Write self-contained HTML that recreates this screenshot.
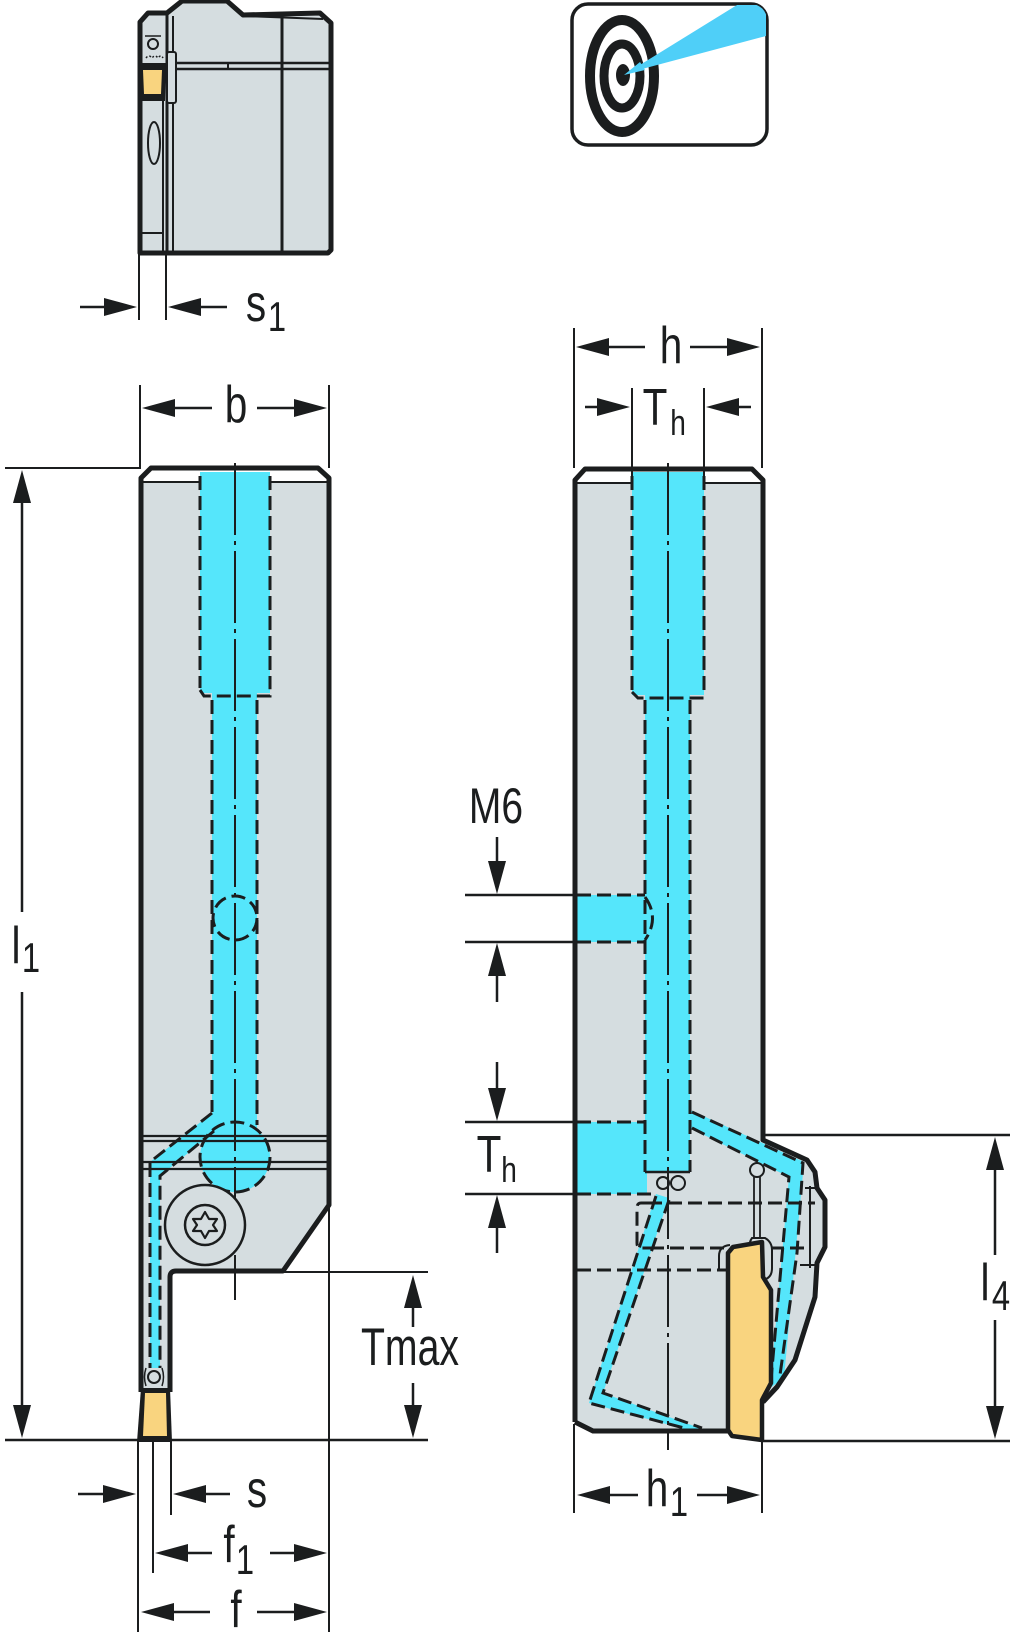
<!DOCTYPE html>
<html>
<head>
<meta charset="utf-8">
<style>
html,body{margin:0;padding:0;background:#fff;}
svg{display:block;}
text{font-family:"Liberation Sans",Arial,sans-serif;fill:#1b1d1e;}
</style>
</head>
<body>
<svg width="1024" height="1645" viewBox="0 0 1024 1645" xmlns="http://www.w3.org/2000/svg">
<defs>
  <clipPath id="iconclip"><rect x="572" y="4" width="195" height="141" rx="16"/></clipPath>
</defs>

<!-- ============ TOP LEFT SIDE BLOCK ============ -->
<path d="M140,22 L148,13 L167,13 L182,1 L227,1 L243,15 L320,13 L331,23 L331,250 L328,253 L140,253 Z" fill="#d5dde0" stroke="#1b1d1e" stroke-width="5" stroke-linejoin="round"/>
<line x1="243" y1="16" x2="323" y2="19" stroke="#1b1d1e" stroke-width="2"/>
<line x1="282" y1="18" x2="282" y2="251" stroke="#1b1d1e" stroke-width="3"/>
<line x1="167" y1="14" x2="167" y2="251" stroke="#1b1d1e" stroke-width="3"/>
<line x1="173" y1="16" x2="173" y2="251" stroke="#1b1d1e" stroke-width="2"/>
<line x1="170" y1="63" x2="329" y2="63" stroke="#1b1d1e" stroke-width="2.5"/>
<line x1="170" y1="69" x2="329" y2="69" stroke="#1b1d1e" stroke-width="2.5"/>
<line x1="228" y1="63" x2="228" y2="69" stroke="#1b1d1e" stroke-width="2"/>
<rect x="167" y="52" width="9" height="51" fill="#d5dde0" stroke="#1b1d1e" stroke-width="2" rx="2"/>
<circle cx="153" cy="44" r="5" fill="none" stroke="#1b1d1e" stroke-width="2"/>
<line x1="145" y1="36" x2="161" y2="36" stroke="#1b1d1e" stroke-width="1.5"/>
<path d="M146,58 q3,-4 6,0 q3,-4 6,0 q3,-4 5,0" fill="none" stroke="#1b1d1e" stroke-width="1.5" stroke-dasharray="2,2"/>
<polygon points="138,63 166,63 165,101 140,101" fill="#1b1d1e"/>
<polygon points="143,70 162,70 161,94 144,94" fill="#f9d47f"/>
<path d="M144,97 q4,4 8,0 q4,4 8,0" fill="none" stroke="#1b1d1e" stroke-width="2"/>
<ellipse cx="154" cy="143" rx="6" ry="21" fill="none" stroke="#1b1d1e" stroke-width="2"/>
<line x1="163" y1="101" x2="163" y2="251" stroke="#1b1d1e" stroke-width="2"/>
<line x1="141" y1="233" x2="163" y2="233" stroke="#1b1d1e" stroke-width="2"/>

<!-- s1 dimension -->
<line x1="139" y1="253" x2="139" y2="320" stroke="#1b1d1e" stroke-width="2"/>
<line x1="166" y1="253" x2="166" y2="320" stroke="#1b1d1e" stroke-width="2"/>
<line x1="80" y1="307" x2="110" y2="307" stroke="#1b1d1e" stroke-width="2.5"/>
<polygon points="137,307 104,298 104,316" fill="#1b1d1e"/>
<line x1="195" y1="307" x2="227" y2="307" stroke="#1b1d1e" stroke-width="2.5"/>
<polygon points="168,307 201,298 201,316" fill="#1b1d1e"/>
<text transform="translate(256,321) scale(0.78,1)" font-size="52" text-anchor="middle">s</text>
<text transform="translate(277,331) scale(0.78,1)" font-size="42" text-anchor="middle">1</text>

<!-- ============ TARGET ICON ============ -->
<rect x="572" y="4" width="195" height="141" rx="16" fill="#fff" stroke="#1b1d1e" stroke-width="3.5"/>
<ellipse cx="622" cy="76" rx="32" ry="56" fill="none" stroke="#1b1d1e" stroke-width="10"/>
<ellipse cx="622" cy="76" rx="18" ry="32" fill="none" stroke="#1b1d1e" stroke-width="9"/>
<ellipse cx="623" cy="75" rx="7" ry="11" fill="#1b1d1e"/>
<polygon points="624,75 640,62 645,70" fill="#4fcff8"/>
<polygon points="627,73 737,5 766,5 766,36" fill="#4fcff8" clip-path="url(#iconclip)"/>

<!-- ============ LEFT FRONT VIEW ============ -->
<path d="M141,478 L151,468 L318,468 L329,478 L329,1205 L283,1271 L176,1271 Q170,1271 170,1277 L170,1392 L141,1392 Z" fill="#d5dde0"/>
<polygon points="142,478 151,469 318,469 328,478 328,482 142,482" fill="#fff"/>
<line x1="143" y1="482" x2="327" y2="482" stroke="#1b1d1e" stroke-width="2"/>
<rect x="200" y="472" width="70" height="221" fill="#55e6fb"/>
<rect x="212" y="690" width="45" height="450" fill="#55e6fb"/>
<polygon points="212,1113 150,1162 150,1368 160,1368 160,1176 215,1131" fill="#55e6fb"/>
<circle cx="235" cy="1157" r="35" fill="#55e6fb"/>
<g stroke="#1b1d1e" stroke-width="2.2">
  <line x1="141" y1="1136" x2="329" y2="1136"/>
  <line x1="141" y1="1141" x2="329" y2="1141"/>
  <line x1="143" y1="1162" x2="329" y2="1162"/>
  <line x1="143" y1="1169" x2="329" y2="1169"/>
</g>
<g fill="none" stroke="#1b1d1e" stroke-width="3" stroke-dasharray="14,6">
  <line x1="200" y1="476" x2="200" y2="688"/>
  <line x1="270" y1="476" x2="270" y2="688"/>
  <path d="M200,690 L204,696 L270,696 L270,688"/>
  <line x1="212" y1="700" x2="212" y2="1112"/>
  <line x1="257" y1="700" x2="257" y2="1125"/>
  <circle cx="235" cy="918" r="22"/>
  <circle cx="235" cy="1157" r="35"/>
  <path d="M212,1113 L150,1162 L150,1368"/>
  <path d="M214,1131 L160,1176 L160,1368"/>
</g>
<line x1="235" y1="463" x2="235" y2="1262" stroke="#1b1d1e" stroke-width="2" stroke-dasharray="72,6,4,6"/>
<line x1="235" y1="1262" x2="235" y2="1300" stroke="#1b1d1e" stroke-width="2"/>
<circle cx="205" cy="1225" r="40" fill="#d5dde0" stroke="#1b1d1e" stroke-width="2.5"/>
<circle cx="205" cy="1225" r="20" fill="#d5dde0" stroke="#1b1d1e" stroke-width="2.5"/>
<path d="M205,1212 L209,1219 L217,1219 L213,1225 L217,1231 L209,1231 L205,1238 L201,1231 L193,1231 L197,1225 L193,1219 L201,1219 Z" fill="none" stroke="#1b1d1e" stroke-width="2.2" stroke-linejoin="round"/>
<circle cx="154" cy="1377" r="6" fill="#d5dde0" stroke="#1b1d1e" stroke-width="2"/>
<path d="M146,1368 q-3,9 0,18 M162,1368 q3,9 0,18" fill="none" stroke="#1b1d1e" stroke-width="1.5"/>
<path d="M141,1392 L141,478 L151,468 L318,468 L329,478 L329,1205 L283,1271 L176,1271 Q170,1271 170,1277 L170,1392" fill="none" stroke="#1b1d1e" stroke-width="5" stroke-linejoin="round"/>
<polygon points="141,1388 170,1388 172,1442 137,1442" fill="#1b1d1e"/>
<polygon points="145,1393 166,1393 167,1436 143,1436" fill="#f9d47f"/>
<line x1="329" y1="1205" x2="329" y2="1632" stroke="#1b1d1e" stroke-width="2"/>

<!-- b dimension -->
<line x1="140" y1="385" x2="140" y2="468" stroke="#1b1d1e" stroke-width="2"/>
<line x1="329" y1="385" x2="329" y2="468" stroke="#1b1d1e" stroke-width="2"/>
<line x1="170" y1="408" x2="212" y2="408" stroke="#1b1d1e" stroke-width="2.5"/>
<polygon points="142,408 175,399 175,417" fill="#1b1d1e"/>
<line x1="257" y1="408" x2="300" y2="408" stroke="#1b1d1e" stroke-width="2.5"/>
<polygon points="327,408 294,399 294,417" fill="#1b1d1e"/>
<text transform="translate(236,422) scale(0.78,1)" font-size="52" text-anchor="middle">b</text>

<!-- l1 dimension -->
<line x1="5" y1="468" x2="141" y2="468" stroke="#1b1d1e" stroke-width="2"/>
<line x1="5" y1="1440" x2="428" y2="1440" stroke="#1b1d1e" stroke-width="2.5"/>
<line x1="22" y1="495" x2="22" y2="912" stroke="#1b1d1e" stroke-width="2.5"/>
<polygon points="22,470 13,503 31,503" fill="#1b1d1e"/>
<line x1="22" y1="992" x2="22" y2="1412" stroke="#1b1d1e" stroke-width="2.5"/>
<polygon points="22,1438 13,1405 31,1405" fill="#1b1d1e"/>
<text transform="translate(16,963) scale(0.78,1)" font-size="52" text-anchor="middle">l</text>
<text transform="translate(31,972) scale(0.78,1)" font-size="42" text-anchor="middle">1</text>

<!-- Tmax dimension -->
<line x1="170" y1="1272" x2="428" y2="1272" stroke="#1b1d1e" stroke-width="2"/>
<line x1="413" y1="1300" x2="413" y2="1327" stroke="#1b1d1e" stroke-width="2.5"/>
<polygon points="413,1275 404,1308 422,1308" fill="#1b1d1e"/>
<line x1="413" y1="1383" x2="413" y2="1410" stroke="#1b1d1e" stroke-width="2.5"/>
<polygon points="413,1438 404,1405 422,1405" fill="#1b1d1e"/>
<text transform="translate(410,1365) scale(0.74,1)" font-size="53" text-anchor="middle">Tmax</text>

<!-- s dimension -->
<line x1="138" y1="1440" x2="138" y2="1632" stroke="#1b1d1e" stroke-width="2"/>
<line x1="153" y1="1440" x2="153" y2="1573" stroke="#1b1d1e" stroke-width="2"/>
<line x1="171" y1="1440" x2="171" y2="1515" stroke="#1b1d1e" stroke-width="2"/>
<line x1="78" y1="1494" x2="110" y2="1494" stroke="#1b1d1e" stroke-width="2.5"/>
<polygon points="136,1494 103,1485 103,1503" fill="#1b1d1e"/>
<line x1="200" y1="1494" x2="230" y2="1494" stroke="#1b1d1e" stroke-width="2.5"/>
<polygon points="173,1494 206,1485 206,1503" fill="#1b1d1e"/>
<text transform="translate(257,1507) scale(0.78,1)" font-size="52" text-anchor="middle">s</text>

<!-- f1 dimension -->
<line x1="180" y1="1553" x2="212" y2="1553" stroke="#1b1d1e" stroke-width="2.5"/>
<polygon points="155,1553 188,1544 188,1562" fill="#1b1d1e"/>
<line x1="270" y1="1553" x2="300" y2="1553" stroke="#1b1d1e" stroke-width="2.5"/>
<polygon points="327,1553 294,1544 294,1562" fill="#1b1d1e"/>
<text transform="translate(229,1562) scale(0.78,1)" font-size="52" text-anchor="middle">f</text>
<text transform="translate(245,1574) scale(0.78,1)" font-size="42" text-anchor="middle">1</text>

<!-- f dimension -->
<line x1="168" y1="1612" x2="210" y2="1612" stroke="#1b1d1e" stroke-width="2.5"/>
<polygon points="141,1612 174,1603 174,1621" fill="#1b1d1e"/>
<line x1="257" y1="1612" x2="300" y2="1612" stroke="#1b1d1e" stroke-width="2.5"/>
<polygon points="327,1612 294,1603 294,1621" fill="#1b1d1e"/>
<text transform="translate(236,1627) scale(0.78,1)" font-size="52" text-anchor="middle">f</text>

<!-- ============ RIGHT SIDE VIEW ============ -->
<path d="M575,480 L585,469 L752,469 L763,480 L763,1140 L807,1160 L815,1172 L817,1188 L825,1200 L825,1247 L817,1263 L815,1297 L795,1360 L777,1387 L763,1402 L762,1441 L732,1437 L728,1431 L593,1431 L575,1422 Z" fill="#d5dde0"/>
<polygon points="576,480 585,470 752,470 762,480 762,483 576,483" fill="#fff"/>
<line x1="577" y1="483" x2="761" y2="483" stroke="#1b1d1e" stroke-width="2"/>
<rect x="632" y="472" width="72" height="223" fill="#55e6fb"/>
<rect x="645" y="692" width="45" height="480" fill="#55e6fb"/>
<rect x="575" y="895" width="70" height="47" fill="#55e6fb"/>
<rect x="575" y="1122" width="72" height="72" fill="#55e6fb"/>
<polygon points="656,1194 589,1403 688,1430 705,1430 603,1393 669,1198" fill="#55e6fb"/>
<polygon points="690,1110 804,1162 784,1378 770,1388 789,1177 690,1128" fill="#55e6fb"/>
<g fill="none" stroke="#1b1d1e" stroke-width="3" stroke-dasharray="14,6">
  <line x1="632" y1="476" x2="632" y2="690"/>
  <line x1="704" y1="476" x2="704" y2="690"/>
  <path d="M632,692 L638,698 L704,698"/>
  <line x1="645" y1="700" x2="645" y2="1172"/>
  <line x1="690" y1="700" x2="690" y2="1172"/>
  <line x1="577" y1="895" x2="645" y2="895"/>
  <line x1="577" y1="942" x2="645" y2="942"/>
  <path d="M645,897 Q660,918 645,940"/>
  <line x1="577" y1="1122" x2="645" y2="1122"/>
  <line x1="577" y1="1194" x2="655" y2="1194"/>
  <line x1="648" y1="1203" x2="815" y2="1203"/>
  <line x1="650" y1="1248" x2="805" y2="1248"/>
  <line x1="577" y1="1270" x2="727" y2="1270"/>
  <path d="M650,1203 L641,1203 Q637,1203 637,1208 L637,1243 Q637,1248 641,1248 L650,1248"/>
  <path d="M656,1196 L589,1403 L688,1429"/>
  <path d="M669,1200 L603,1393 L702,1428"/>
  <path d="M692,1112 L803,1163 L797,1253 L780,1375"/>
  <path d="M692,1128 L789,1177 L771,1380"/>
</g>
<line x1="645" y1="1172" x2="690" y2="1172" stroke="#1b1d1e" stroke-width="2.5"/>
<line x1="668" y1="463" x2="668" y2="1450" stroke="#1b1d1e" stroke-width="2" stroke-dasharray="72,6,4,6"/>
<circle cx="663" cy="1183" r="6" fill="none" stroke="#1b1d1e" stroke-width="2"/>
<circle cx="678" cy="1183" r="7" fill="none" stroke="#1b1d1e" stroke-width="2"/>
<circle cx="757" cy="1170" r="7" fill="#d5dde0" stroke="#1b1d1e" stroke-width="2"/>
<line x1="754" y1="1177" x2="754" y2="1238" stroke="#1b1d1e" stroke-width="1.8"/>
<line x1="760" y1="1177" x2="760" y2="1238" stroke="#1b1d1e" stroke-width="1.8"/>
<path d="M752,1238 Q749,1242 749,1250 L749,1268 Q749,1280 760,1280 Q772,1280 772,1268 L772,1250 Q772,1242 765,1238 Z" fill="#d5dde0" stroke="#1b1d1e" stroke-width="2"/>
<line x1="810" y1="1186" x2="810" y2="1268" stroke="#1b1d1e" stroke-width="2"/>
<line x1="805" y1="1188" x2="817" y2="1188" stroke="#1b1d1e" stroke-width="2"/>
<line x1="800" y1="1265" x2="817" y2="1265" stroke="#1b1d1e" stroke-width="2"/>
<path d="M575,1422 L575,480 L585,469 L752,469 L763,480 L763,1140 L807,1160 L815,1172 L817,1188 L825,1200 L825,1247 L817,1263 L815,1297 L795,1360 L777,1387 L763,1402 M728,1431 L593,1431 L575,1422" fill="none" stroke="#1b1d1e" stroke-width="5" stroke-linejoin="round"/>
<path d="M730,1245 Q719,1246 719,1256 L719,1270 L728,1270" fill="none" stroke="#1b1d1e" stroke-width="2"/>
<polygon points="728,1253 733,1247 762,1242 763,1277 771,1290 771,1383 762,1400 762,1440 732,1436 728,1430" fill="#f9d47f" stroke="#1b1d1e" stroke-width="4.5" stroke-linejoin="round"/>

<!-- h dimension -->
<line x1="574" y1="328" x2="574" y2="468" stroke="#1b1d1e" stroke-width="2"/>
<line x1="762" y1="328" x2="762" y2="468" stroke="#1b1d1e" stroke-width="2"/>
<line x1="600" y1="347" x2="645" y2="347" stroke="#1b1d1e" stroke-width="2.5"/>
<polygon points="576,347 609,338 609,356" fill="#1b1d1e"/>
<line x1="690" y1="347" x2="735" y2="347" stroke="#1b1d1e" stroke-width="2.5"/>
<polygon points="760,347 727,338 727,356" fill="#1b1d1e"/>
<text transform="translate(671,363) scale(0.78,1)" font-size="52" text-anchor="middle">h</text>

<!-- Th top dimension -->
<line x1="632" y1="388" x2="632" y2="476" stroke="#1b1d1e" stroke-width="2"/>
<line x1="704" y1="388" x2="704" y2="476" stroke="#1b1d1e" stroke-width="2"/>
<line x1="585" y1="407" x2="605" y2="407" stroke="#1b1d1e" stroke-width="2.5"/>
<polygon points="630,407 597,398 597,416" fill="#1b1d1e"/>
<line x1="730" y1="407" x2="751" y2="407" stroke="#1b1d1e" stroke-width="2.5"/>
<polygon points="706,407 739,398 739,416" fill="#1b1d1e"/>
<text transform="translate(655,425) scale(0.78,1)" font-size="52" text-anchor="middle">T</text>
<text transform="translate(678,435) scale(0.78,1)" font-size="36" text-anchor="middle">h</text>

<!-- M6 dimension -->
<text transform="translate(496,823) scale(0.78,1)" font-size="50" text-anchor="middle">M6</text>
<line x1="465" y1="895" x2="575" y2="895" stroke="#1b1d1e" stroke-width="2.5"/>
<line x1="465" y1="942" x2="575" y2="942" stroke="#1b1d1e" stroke-width="2.5"/>
<line x1="497" y1="837" x2="497" y2="870" stroke="#1b1d1e" stroke-width="2.5"/>
<polygon points="497,894 488,861 506,861" fill="#1b1d1e"/>
<line x1="497" y1="970" x2="497" y2="1002" stroke="#1b1d1e" stroke-width="2.5"/>
<polygon points="497,943 488,976 506,976" fill="#1b1d1e"/>

<!-- Th lower dimension -->
<line x1="465" y1="1122" x2="575" y2="1122" stroke="#1b1d1e" stroke-width="2.5"/>
<line x1="465" y1="1194" x2="575" y2="1194" stroke="#1b1d1e" stroke-width="2.5"/>
<line x1="497" y1="1062" x2="497" y2="1095" stroke="#1b1d1e" stroke-width="2.5"/>
<polygon points="497,1121 488,1088 506,1088" fill="#1b1d1e"/>
<line x1="497" y1="1220" x2="497" y2="1253" stroke="#1b1d1e" stroke-width="2.5"/>
<polygon points="497,1195 488,1228 506,1228" fill="#1b1d1e"/>
<text transform="translate(489,1172) scale(0.78,1)" font-size="52" text-anchor="middle">T</text>
<text transform="translate(509,1182) scale(0.78,1)" font-size="36" text-anchor="middle">h</text>

<!-- l4 dimension -->
<line x1="763" y1="1135" x2="1010" y2="1135" stroke="#1b1d1e" stroke-width="2.5"/>
<line x1="763" y1="1441" x2="1010" y2="1441" stroke="#1b1d1e" stroke-width="2.5"/>
<line x1="995" y1="1160" x2="995" y2="1255" stroke="#1b1d1e" stroke-width="2.5"/>
<polygon points="995,1137 986,1170 1004,1170" fill="#1b1d1e"/>
<line x1="995" y1="1320" x2="995" y2="1415" stroke="#1b1d1e" stroke-width="2.5"/>
<polygon points="995,1439 986,1406 1004,1406" fill="#1b1d1e"/>
<text transform="translate(985,1300) scale(0.78,1)" font-size="52" text-anchor="middle">l</text>
<text transform="translate(1001,1310) scale(0.78,1)" font-size="42" text-anchor="middle">4</text>

<!-- h1 dimension -->
<line x1="574" y1="1424" x2="574" y2="1513" stroke="#1b1d1e" stroke-width="2"/>
<line x1="762" y1="1441" x2="762" y2="1513" stroke="#1b1d1e" stroke-width="2"/>
<line x1="600" y1="1495" x2="638" y2="1495" stroke="#1b1d1e" stroke-width="2.5"/>
<polygon points="577,1495 610,1486 610,1504" fill="#1b1d1e"/>
<line x1="697" y1="1495" x2="735" y2="1495" stroke="#1b1d1e" stroke-width="2.5"/>
<polygon points="760,1495 727,1486 727,1504" fill="#1b1d1e"/>
<text transform="translate(657,1506) scale(0.78,1)" font-size="52" text-anchor="middle">h</text>
<text transform="translate(679,1516) scale(0.78,1)" font-size="42" text-anchor="middle">1</text>

</svg>
</body>
</html>
